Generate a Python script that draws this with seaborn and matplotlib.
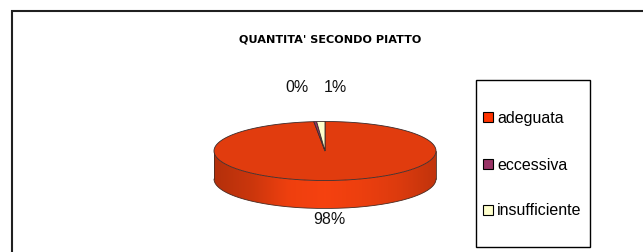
import numpy as np
import matplotlib
matplotlib.use("Agg")
import matplotlib.pyplot as plt
from matplotlib.patches import Polygon, Rectangle
import seaborn as sns


# =========================
# Data
# =========================

categories = ["adeguata", "eccessiva", "insufficiente"]
shares = [98.4, 0.4, 1.2]
top_colors = ["#e13c0e", "#993366", "#ffffcc"]
legend_colors = ["#ff3300", "#993366", "#ffffcc"]
title = "QUANTITA' SECONDO PIATTO"


# =========================
# Figure
# =========================

sns.set_theme(style="white")
plt.rcParams["font.family"] = ["Liberation Sans", "DejaVu Sans"]

fig = plt.figure(figsize=(6.43, 2.53), dpi=100)
ax = fig.add_axes([0, 0, 1, 1])
ax.set_xlim(0, 643)
ax.set_ylim(253, 0)
ax.axis("off")

# chart area frame (only top and left edges visible)
ax.plot([12, 12, 643], [253, 12, 12], color="#202020", lw=1.5,
        solid_joinstyle="miter")

ax.text(330, 39, title, ha="center", va="center", family="DejaVu Sans",
        fontsize=8.1, fontweight="bold", color="black")


# =========================
# 3D pie
# =========================

cx, cy, rx, ry, depth = 325, 152, 111, 29.5, 28


def rim(a0, a1, n=200):
    t = np.radians(np.linspace(a0, a1, n))
    return cx + rx * np.sin(t), cy - ry * np.cos(t)


bounds = np.concatenate([[0], np.cumsum(shares)]) / sum(shares) * 360

# side wall (front half: 90 -> 270 degrees, clockwise from top)
for (a0, a1), col in zip(zip(bounds[:-1], bounds[1:]), top_colors):
    lo, hi = max(a0, 90), min(a1, 270)
    if hi <= lo:
        continue
    base = np.array(matplotlib.colors.to_rgb(col))
    pal = sns.blend_palette([np.clip(base * f, 0, 1) for f in
                             (0.80, 0.90, 1.06, 1.09, 1.05, 0.98, 0.86)],
                            n_colors=256)
    xs, ys = rim(lo, hi, 241)
    side = Polygon(list(zip(xs, ys)) + list(zip(xs[::-1], ys[::-1] + depth)),
                   closed=True, facecolor="none", edgecolor="none")
    ax.add_patch(side)
    grad = np.array(pal)[None, :, :]
    im = ax.imshow(grad, extent=(cx - rx, cx + rx, cy + ry + depth, cy - ry),
                   aspect="auto", interpolation="bilinear", zorder=1)
    im.set_clip_path(side)

xs, ys = rim(90, 270, 241)
ax.plot(xs, ys + depth, color="#4a2a20", lw=0.6, zorder=2)
ax.plot([cx + rx, cx + rx], [cy, cy + depth], color="#4a2a20", lw=0.6, zorder=2)
ax.plot([cx - rx, cx - rx], [cy, cy + depth], color="#4a2a20", lw=0.6, zorder=2)

# top face
for (a0, a1), col in zip(zip(bounds[:-1], bounds[1:]), top_colors):
    xs, ys = rim(a0, a1, max(int((a1 - a0) * 2), 3))
    pts = [(cx, cy)] + list(zip(xs, ys))
    ax.add_patch(Polygon(pts, closed=True, facecolor=col,
                         edgecolor="#3a2a2a", lw=0.6, zorder=3))

# percentage labels
label_pos = [(329, 220), (297, 87), (335, 87)]
for v, (lx, ly) in zip(shares, label_pos):
    ax.text(lx, ly, f"{round(v / sum(shares) * 100)}%", ha="center",
            va="center", fontsize=11.5, color="#111111")


# =========================
# Legend
# =========================

ax.add_patch(Rectangle((476, 81), 114, 167, fill=False,
                       edgecolor="black", lw=1))
for name, col, ly in zip(categories, legend_colors, [118, 165, 211]):
    ax.add_patch(Rectangle((482.5, ly - 5), 10, 10, facecolor=col,
                           edgecolor="black", lw=0.8))
    ax.text(497, ly, name, ha="left", va="center", fontsize=11.5,
            color="black")

ax.set_xlim(0, 643)
ax.set_ylim(253, 0)

plt.savefig("out.png", dpi=100, facecolor="white")
plt.close()
